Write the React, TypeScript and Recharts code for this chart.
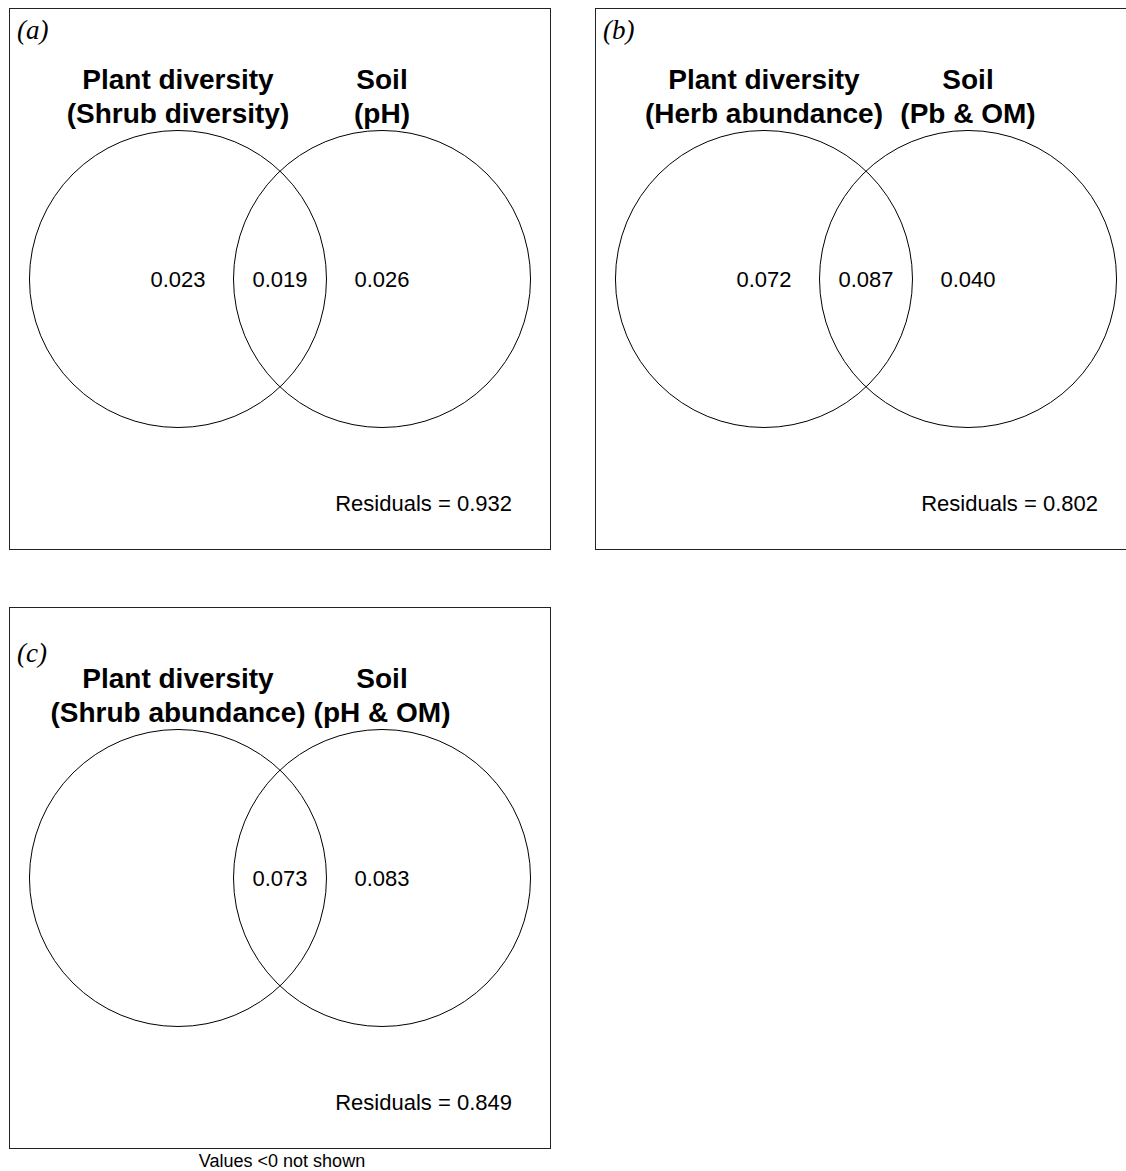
import React from 'react';
import { ScatterChart, Scatter, XAxis, YAxis } from 'recharts';

const panelTags = ['(a)', '(b)', '(c)'];
const groupNames = ['Plant diversity', 'Soil'];
const plantDetails = ['(Shrub diversity)', '(Herb abundance)', '(Shrub abundance)'];
const soilDetails = ['(pH)', '(Pb & OM)', '(pH & OM)'];
// explained fractions, null = negative (not shown)
const plantOnly = [0.023, 0.072, null];
const shared = [0.019, 0.087, 0.073];
const soilOnly = [0.026, 0.040, 0.083];
const residuals = [0.932, 0.802, 0.849];
const footnote = 'Values <0 not shown';

// venn layout in radius units
const circleCenters = [-0.687, 0.687];
const circleRadius = 1;

const SIZE = 540;
const HALF = 1.818;
const PX = SIZE / (2 * HALF);

const SANS = '"Liberation Sans", Arial, sans-serif';
const SERIF = '"Liberation Serif", "Times New Roman", serif';

// label anchors (venn units)
const TITLE_Y = 1.279;
const TAG_X = -1.771;
const tagY = [1.616, 1.616, 1.455];
const RESID_X = 1.562;
const RESID_Y = -1.562;

const panelPos = [
  { left: 9, top: 8 },
  { left: 595, top: 8 },
  { left: 9, top: 607 },
];

const CircleShape = (props: any) => (
  <circle cx={props.cx} cy={props.cy} r={props.payload.r * PX} fill="none" stroke="#000" strokeWidth={1} />
);

const ValueShape = (props: any) => (
  <text x={props.cx} y={props.cy} dy="0.36em" textAnchor="middle" fontFamily={SANS} fontSize={22} fill="#000">
    {props.payload.label}
  </text>
);

const TitleShape = (props: any) => (
  <text x={props.cx} y={props.cy} textAnchor="middle" fontFamily={SANS} fontSize={28} fontWeight="bold" fill="#000">
    <tspan x={props.cx}>{props.payload.name}</tspan>
    <tspan x={props.cx} dy={34}>{props.payload.detail}</tspan>
  </text>
);

const TagShape = (props: any) => (
  <text x={props.cx} y={props.cy} fontFamily={SERIF} fontStyle="italic" fontSize={27} fill="#000">
    {props.payload.label}
  </text>
);

const ResidShape = (props: any) => (
  <text x={props.cx} y={props.cy} textAnchor="end" fontFamily={SANS} fontSize={22} fill="#000">
    {props.payload.label}
  </text>
);

const VennPanel = ({ i }: { i: number }) => {
  const circles = circleCenters.map((x) => ({ x, y: 0, r: circleRadius }));
  const parts = [
    { x: circleCenters[0], y: 0, v: plantOnly[i] },
    { x: (circleCenters[0] + circleCenters[1]) / 2, y: 0, v: shared[i] },
    { x: circleCenters[1], y: 0, v: soilOnly[i] },
  ]
    .filter((d) => d.v !== null)
    .map((d) => ({ ...d, label: (d.v as number).toFixed(3) }));
  const titles = [
    { x: circleCenters[0], y: TITLE_Y, name: groupNames[0], detail: plantDetails[i] },
    { x: circleCenters[1], y: TITLE_Y, name: groupNames[1], detail: soilDetails[i] },
  ];
  const tag = [{ x: TAG_X, y: tagY[i], label: panelTags[i] }];
  const resid = [{ x: RESID_X, y: RESID_Y, label: `Residuals = ${residuals[i].toFixed(3)}` }];

  return (
    <div
      style={{
        position: 'absolute',
        left: panelPos[i].left,
        top: panelPos[i].top,
        width: SIZE,
        height: SIZE,
        border: '1px solid #222',
      }}
    >
      <ScatterChart width={SIZE} height={SIZE} margin={{ top: 0, right: 0, bottom: 0, left: 0 }}>
        <XAxis type="number" dataKey="x" domain={[-HALF, HALF]} hide allowDataOverflow />
        <YAxis type="number" dataKey="y" domain={[-HALF, HALF]} hide allowDataOverflow />
        <Scatter data={circles} shape={CircleShape} isAnimationActive={false} />
        <Scatter data={parts} shape={ValueShape} isAnimationActive={false} />
        <Scatter data={titles} shape={TitleShape} isAnimationActive={false} />
        <Scatter data={tag} shape={TagShape} isAnimationActive={false} />
        <Scatter data={resid} shape={ResidShape} isAnimationActive={false} />
      </ScatterChart>
    </div>
  );
};

const App = () => {
  return (
    <div
      style={{
        position: 'absolute',
        left: 0,
        top: 0,
        width: 1126,
        height: 1171,
        overflow: 'hidden',
        background: '#fff',
      }}
    >
      {panelTags.map((_, i) => (
        <VennPanel key={i} i={i} />
      ))}
      <svg style={{ position: 'absolute', left: 9, top: 1148 }} width={542} height={23}>
        <text x={273} y={19} textAnchor="middle" fontFamily={SANS} fontSize={18} fill="#000">
          {footnote}
        </text>
      </svg>
    </div>
  );
};

export default App;
